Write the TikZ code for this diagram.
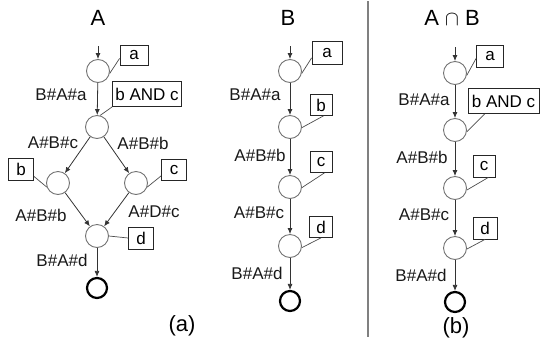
\documentclass[tikz,border=0pt]{standalone}
\usepackage{fontspec}
\setmainfont{Liberation Sans}
\usetikzlibrary{arrows.meta}
\begin{document}
\begin{tikzpicture}[x=1pt,y=-1pt,
  st/.style={circle,draw=black!55,line width=0.9pt,minimum size=23pt,inner sep=0pt},
  fin/.style={circle,draw=black,line width=2.2pt,minimum size=20pt,inner sep=0pt},
  bx/.style={rectangle,draw=black!85,line width=0.8pt,inner sep=0pt,font=\fontsize{17}{19}\selectfont},
  lbl/.style={inner sep=0pt,font=\fontsize{17}{19}\selectfont,text=black!90},
  ttl/.style={inner sep=0pt,font=\fontsize{22}{25}\selectfont},
  arr/.style={draw=black!80,line width=0.8pt,-{Latex[length=6pt,width=5pt]}},
  ln/.style={draw=black!70,line width=0.7pt}]
\useasboundingbox (0,0) rectangle (540,354);
% ---------------- Panel A ----------------
\node[ttl] (tA) at (98,18) {A};
\coordinate (inA) at (98,46);
\node[st] (sA1) at (98,71) {};
\node[st] (sA2) at (97,127) {};
\node[st] (sA3) at (58,183) {};
\node[st] (sA4) at (136,183) {};
\node[st] (sA5) at (97,236) {};
\node[fin] (fA) at (97,288) {};
\node[bx,minimum width=28pt,minimum height=20pt] (aA) at (134,55) {a};
\node[bx,minimum width=69pt,minimum height=25pt] (bcA) at (147,94) {b AND c};
\node[bx,minimum width=25pt,minimum height=22pt] (bA) at (21,169) {b};
\node[bx,minimum width=25pt,minimum height=21pt] (cA) at (174,170) {c};
\node[bx,minimum width=25pt,minimum height=22pt] (dA) at (141,238) {d};
\node[lbl] (l1A) at (61,95) {B\#A\#a};
\node[lbl] (l2A) at (53,143) {A\#B\#c};
\node[lbl] (l3A) at (143,143) {A\#B\#b};
\node[lbl] (l4A) at (41,215) {A\#B\#b};
\node[lbl] (l5A) at (154,212) {A\#D\#c};
\node[lbl] (l6A) at (62,260) {B\#A\#d};
\node[ttl] (capA) at (182,326) {(a)};
\draw[arr] (inA) -- (sA1);
\draw[arr] (sA1) -- (sA2);
\draw[arr] (sA2) -- (sA3);
\draw[arr] (sA2) -- (sA4);
\draw[arr] (sA3) -- (sA5);
\draw[arr] (sA4) -- (sA5);
\draw[arr] (sA5) -- (fA);
\draw[ln] ([yshift=7pt]aA.south west) -- (sA1.-12);
\draw[ln] (bcA.south west) -- (sA2.75);
\draw[ln] ([yshift=4pt]bA.south east) -- (sA3.200);
\draw[ln] ([yshift=5pt]cA.south west) -- (sA4.-20);
\draw[ln] (sA5.east) -- (dA.west);
% ---------------- Panel B ----------------
\node[ttl] (tB) at (288,18) {B};
\coordinate (inB) at (290,46);
\node[st] (sB1) at (290,71) {};
\node[st] (sB2) at (290,127) {};
\node[st] (sB3) at (290,187) {};
\node[st] (sB4) at (290,246) {};
\node[fin] (fB) at (290,301) {};
\node[bx,minimum width=30pt,minimum height=23pt] (aB) at (327,53) {a};
\node[bx,minimum width=22pt,minimum height=21pt] (bB) at (321,105) {b};
\node[bx,minimum width=22pt,minimum height=21pt] (cB) at (321,162) {c};
\node[bx,minimum width=23pt,minimum height=21pt] (dB) at (321,227) {d};
\node[lbl] (l1B) at (255,95) {B\#A\#a};
\node[lbl] (l2B) at (260,155) {A\#B\#b};
\node[lbl] (l3B) at (259,213) {A\#B\#c};
\node[lbl] (l4B) at (257,273) {B\#A\#d};
\draw[arr] (inB) -- (sB1);
\draw[arr] (sB1) -- (sB2);
\draw[arr] (sB2) -- (sB3);
\draw[arr] (sB3) -- (sB4);
\draw[arr] (sB4) -- (fB);
\draw[ln] ([yshift=7pt]aB.south west) -- (sB1.-12);
\draw[ln] ([xshift=-9pt]bB.south east) -- (sB2.-3);
\draw[ln] ([xshift=-8pt]cB.south east) -- (sB3.-3);
\draw[ln] ([xshift=-12pt]dB.south east) -- (sB4.-8);
% divider
\coordinate (dv1) at (368,1);
\coordinate (dv2) at (368,337);
\draw[draw=black!50,line width=1.8pt] (dv1) -- (dv2);
% ---------------- Panel C ----------------
\node[ttl] (tC) at (452,18) {A $\cap$ B};
\coordinate (inC) at (455,47);
\node[st] (sC1) at (455,73) {};
\node[st] (sC2) at (455,130) {};
\node[st] (sC3) at (455,188) {};
\node[st] (sC4) at (455,248) {};
\node[fin] (fC) at (455,302) {};
\node[bx,minimum width=27pt,minimum height=22pt] (aC) at (490,56) {a};
\node[bx,minimum width=71pt,minimum height=25pt] (bcC) at (503.5,101) {b AND c};
\node[bx,minimum width=22pt,minimum height=22pt] (cC) at (484,166) {c};
\node[bx,minimum width=24pt,minimum height=22pt] (dC) at (485,228) {d};
\node[lbl] (l1C) at (424,100) {B\#A\#a};
\node[lbl] (l2C) at (422,157) {A\#B\#b};
\node[lbl] (l3C) at (424,215) {A\#B\#c};
\node[lbl] (l4C) at (421,275) {B\#A\#d};
\node[ttl] (capC) at (456,328) {(b)};
\draw[arr] (inC) -- (sC1);
\draw[arr] (sC1) -- (sC2);
\draw[arr] (sC2) -- (sC3);
\draw[arr] (sC3) -- (sC4);
\draw[arr] (sC4) -- (fC);
\draw[ln] ([yshift=9pt]aC.south west) -- (sC1.-12);
\draw[ln] ([xshift=17pt]bcC.south west) -- (sC2.-8);
\draw[ln] ([xshift=-7pt]cC.south east) -- (sC3.-10);
\draw[ln] (dC.south) -- (sC4.-5);
\end{tikzpicture}
\end{document}
